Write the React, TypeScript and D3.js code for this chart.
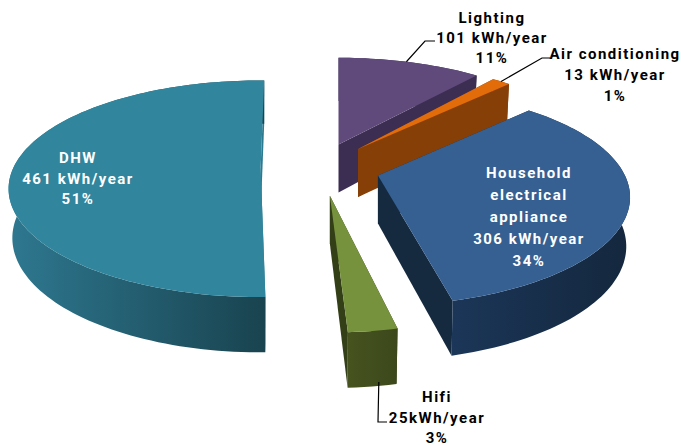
import React from "react";
import * as d3 from "d3";

// Annual electricity use per end use, clockwise from the top of the pie
const categories = ["Lighting", "Air conditioning", "Household electrical appliance", "Hifi", "DHW"];
const consumption = [101, 13, 306, 25, 461];
const labelLines = [
  ["Lighting", "101 kWh/year", "11%"],
  ["Air conditioning", "13 kWh/year", "1%"],
  ["Household", "electrical", "appliance", "306 kWh/year", "34%"],
  ["Hifi", "25kWh/year", "3%"],
  ["DHW", "461 kWh/year", "51%"],
];
const topColors = ["#604a7b", "#e36c0a", "#366092", "#76923c", "#31859c"];
const wallFrom = ["#3c2e52", "#873f08", "#1b3658", "#46531f", "#2e7890"];
const wallTo = ["#3c2e52", "#873f08", "#14273d", "#3c481b", "#19434f"];
const innerWall = ["#3c2e52", "#873f08", "#15293f", "#333f17", "#2b7a90"];
const labelColors = ["#000", "#000", "#fff", "#000", "#fff"];

// Painter's order for the exploded slices, far to near
const drawOrder = [0, 1, 4, 3, 2];

const W = 681;
const H = 446;
const CENTER = { x: 320, y: 167 };
const RX = 247;
const RY = 104;
const PERSPECTIVE = 0.2;
const EXPLODE = 0.24;
const DEPTH = 48;
const START_DEG = -1;
const rad = (d: number) => (d * Math.PI) / 180;

// Per-slice corrections: edge rotation in degrees, vertical shift, rim scale
const startNudge = [1, 0, 0, 2, 3.3];
const endNudge = [1, 0, 0, 1, 2];
const liftY = [0, 0, 2, 3, -1];
const rimScale = [1, 1, 1, 1.04, 1];

// Leader elbows and label anchors, keyed by slice index
const labelPos = [
  { x: 492, y: 23, elbow: [[425, 41], [435, 41]] },
  { x: 615, y: 59, elbow: [[542, 58], [550, 58]] },
  { x: 529, y: 178, elbow: null },
  { x: 437, y: 402, elbow: [[378, 422], [387, 422]] },
  { x: 78, y: 163, elbow: null },
];
const lineGap = [20, 21, 22, 20.5, 20.5];
const anchorBottom = [false, false, false, true, false];

// Ground-plane angle to screen offset, with far edge foreshortened
function project(theta: number, r = 1) {
  const X = r * Math.sin(theta);
  const Y = r * Math.cos(theta);
  const f = 1 / (1 + PERSPECTIVE * Y);
  return { x: RX * X * f, y: -RY * Y * f, f };
}

const wallDrop = (f: number) => DEPTH * (1 + 0.6 * (f - 1));

const toPath = (pts: number[][]) =>
  d3.line().x((p) => p[0]).y((p) => p[1])(pts as [number, number][]) + "Z";

const pie = d3
  .pie<number>()
  .sort(null)
  .startAngle(rad(START_DEG))
  .endAngle(rad(START_DEG + 360));

const arcs = pie(consumption).map((a, i) => {
  const a0 = a.startAngle + rad(startNudge[i]);
  const a1 = a.endAngle + rad(endNudge[i]);
  const mid = (a.startAngle + a.endAngle) / 2;
  const off = project(mid, EXPLODE);
  const apex = { x: CENTER.x + off.x, y: CENTER.y + off.y + liftY[i] };
  const steps = Math.max(4, Math.ceil((a1 - a0) / rad(1.5)));
  const angles = d3.range(steps + 1).map((k) => a0 + ((a1 - a0) * k) / steps);
  const rimTop = angles.map((t) => {
    const p = project(t, rimScale[i]);
    return [apex.x + p.x, apex.y + p.y];
  });
  const rimBottom = angles.map((t) => {
    const p = project(t, rimScale[i]);
    return [apex.x + p.x * 0.985, apex.y + p.y + wallDrop(p.f)];
  });
  const apexBottom = [apex.x, apex.y + DEPTH];
  const midPoint = project(mid);
  return { i, apex, apexBottom, rimTop, rimBottom, mid, midPoint };
});

export default function App() {
  return (
    <svg
      width={W}
      height={H}
      viewBox={`0 0 ${W} ${H}`}
      style={{ position: "absolute", left: 0, top: 0, background: "#fff" }}
    >
      <defs>
        {arcs.map((s) => {
          const xs = s.rimTop.map((p) => p[0]);
          return (
            <linearGradient
              key={s.i}
              id={`wall-${s.i}`}
              gradientUnits="userSpaceOnUse"
              x1={d3.min(xs)}
              x2={d3.max(xs)}
              y1={0}
              y2={0}
            >
              <stop offset="0" stopColor={wallFrom[s.i]} />
              <stop offset="1" stopColor={wallTo[s.i]} />
            </linearGradient>
          );
        })}
      </defs>

      {drawOrder.map((i) => {
        const s = arcs[i];
        const n = s.rimTop.length - 1;
        const apexTop = [s.apex.x, s.apex.y];
        return (
          <g key={categories[i]}>
            <path
              d={toPath([apexTop, s.rimTop[0], s.rimBottom[0], s.apexBottom])}
              fill={innerWall[i]}
            />
            <path
              d={toPath([apexTop, s.rimTop[n], s.rimBottom[n], s.apexBottom])}
              fill={innerWall[i]}
            />
            <path
              d={toPath([...s.rimTop, ...[...s.rimBottom].reverse()])}
              fill={`url(#wall-${i})`}
            />
            <path d={toPath([apexTop, ...s.rimTop])} fill={topColors[i]} />
          </g>
        );
      })}

      {arcs.map((s) => {
        const pos = labelPos[s.i];
        if (!pos.elbow) return null;
        const start = [
          s.apex.x + s.midPoint.x,
          s.apex.y + s.midPoint.y + (anchorBottom[s.i] ? wallDrop(s.midPoint.f) + 3 : 0),
        ];
        return (
          <polyline
            key={s.i}
            points={[start, ...pos.elbow].map((p) => p.join(",")).join(" ")}
            fill="none"
            stroke="#000"
            strokeWidth={1.2}
          />
        );
      })}

      {labelLines.map((lines, i) => (
        <text
          key={categories[i]}
          textAnchor="middle"
          fontFamily="Roboto, sans-serif"
          fontWeight={700}
          fontSize={15}
          letterSpacing={1.5}
          fill={labelColors[i]}
        >
          {lines.map((line, k) => (
            <tspan key={k} x={labelPos[i].x} y={labelPos[i].y + k * lineGap[i]}>
              {line}
            </tspan>
          ))}
        </text>
      ))}
    </svg>
  );
}
